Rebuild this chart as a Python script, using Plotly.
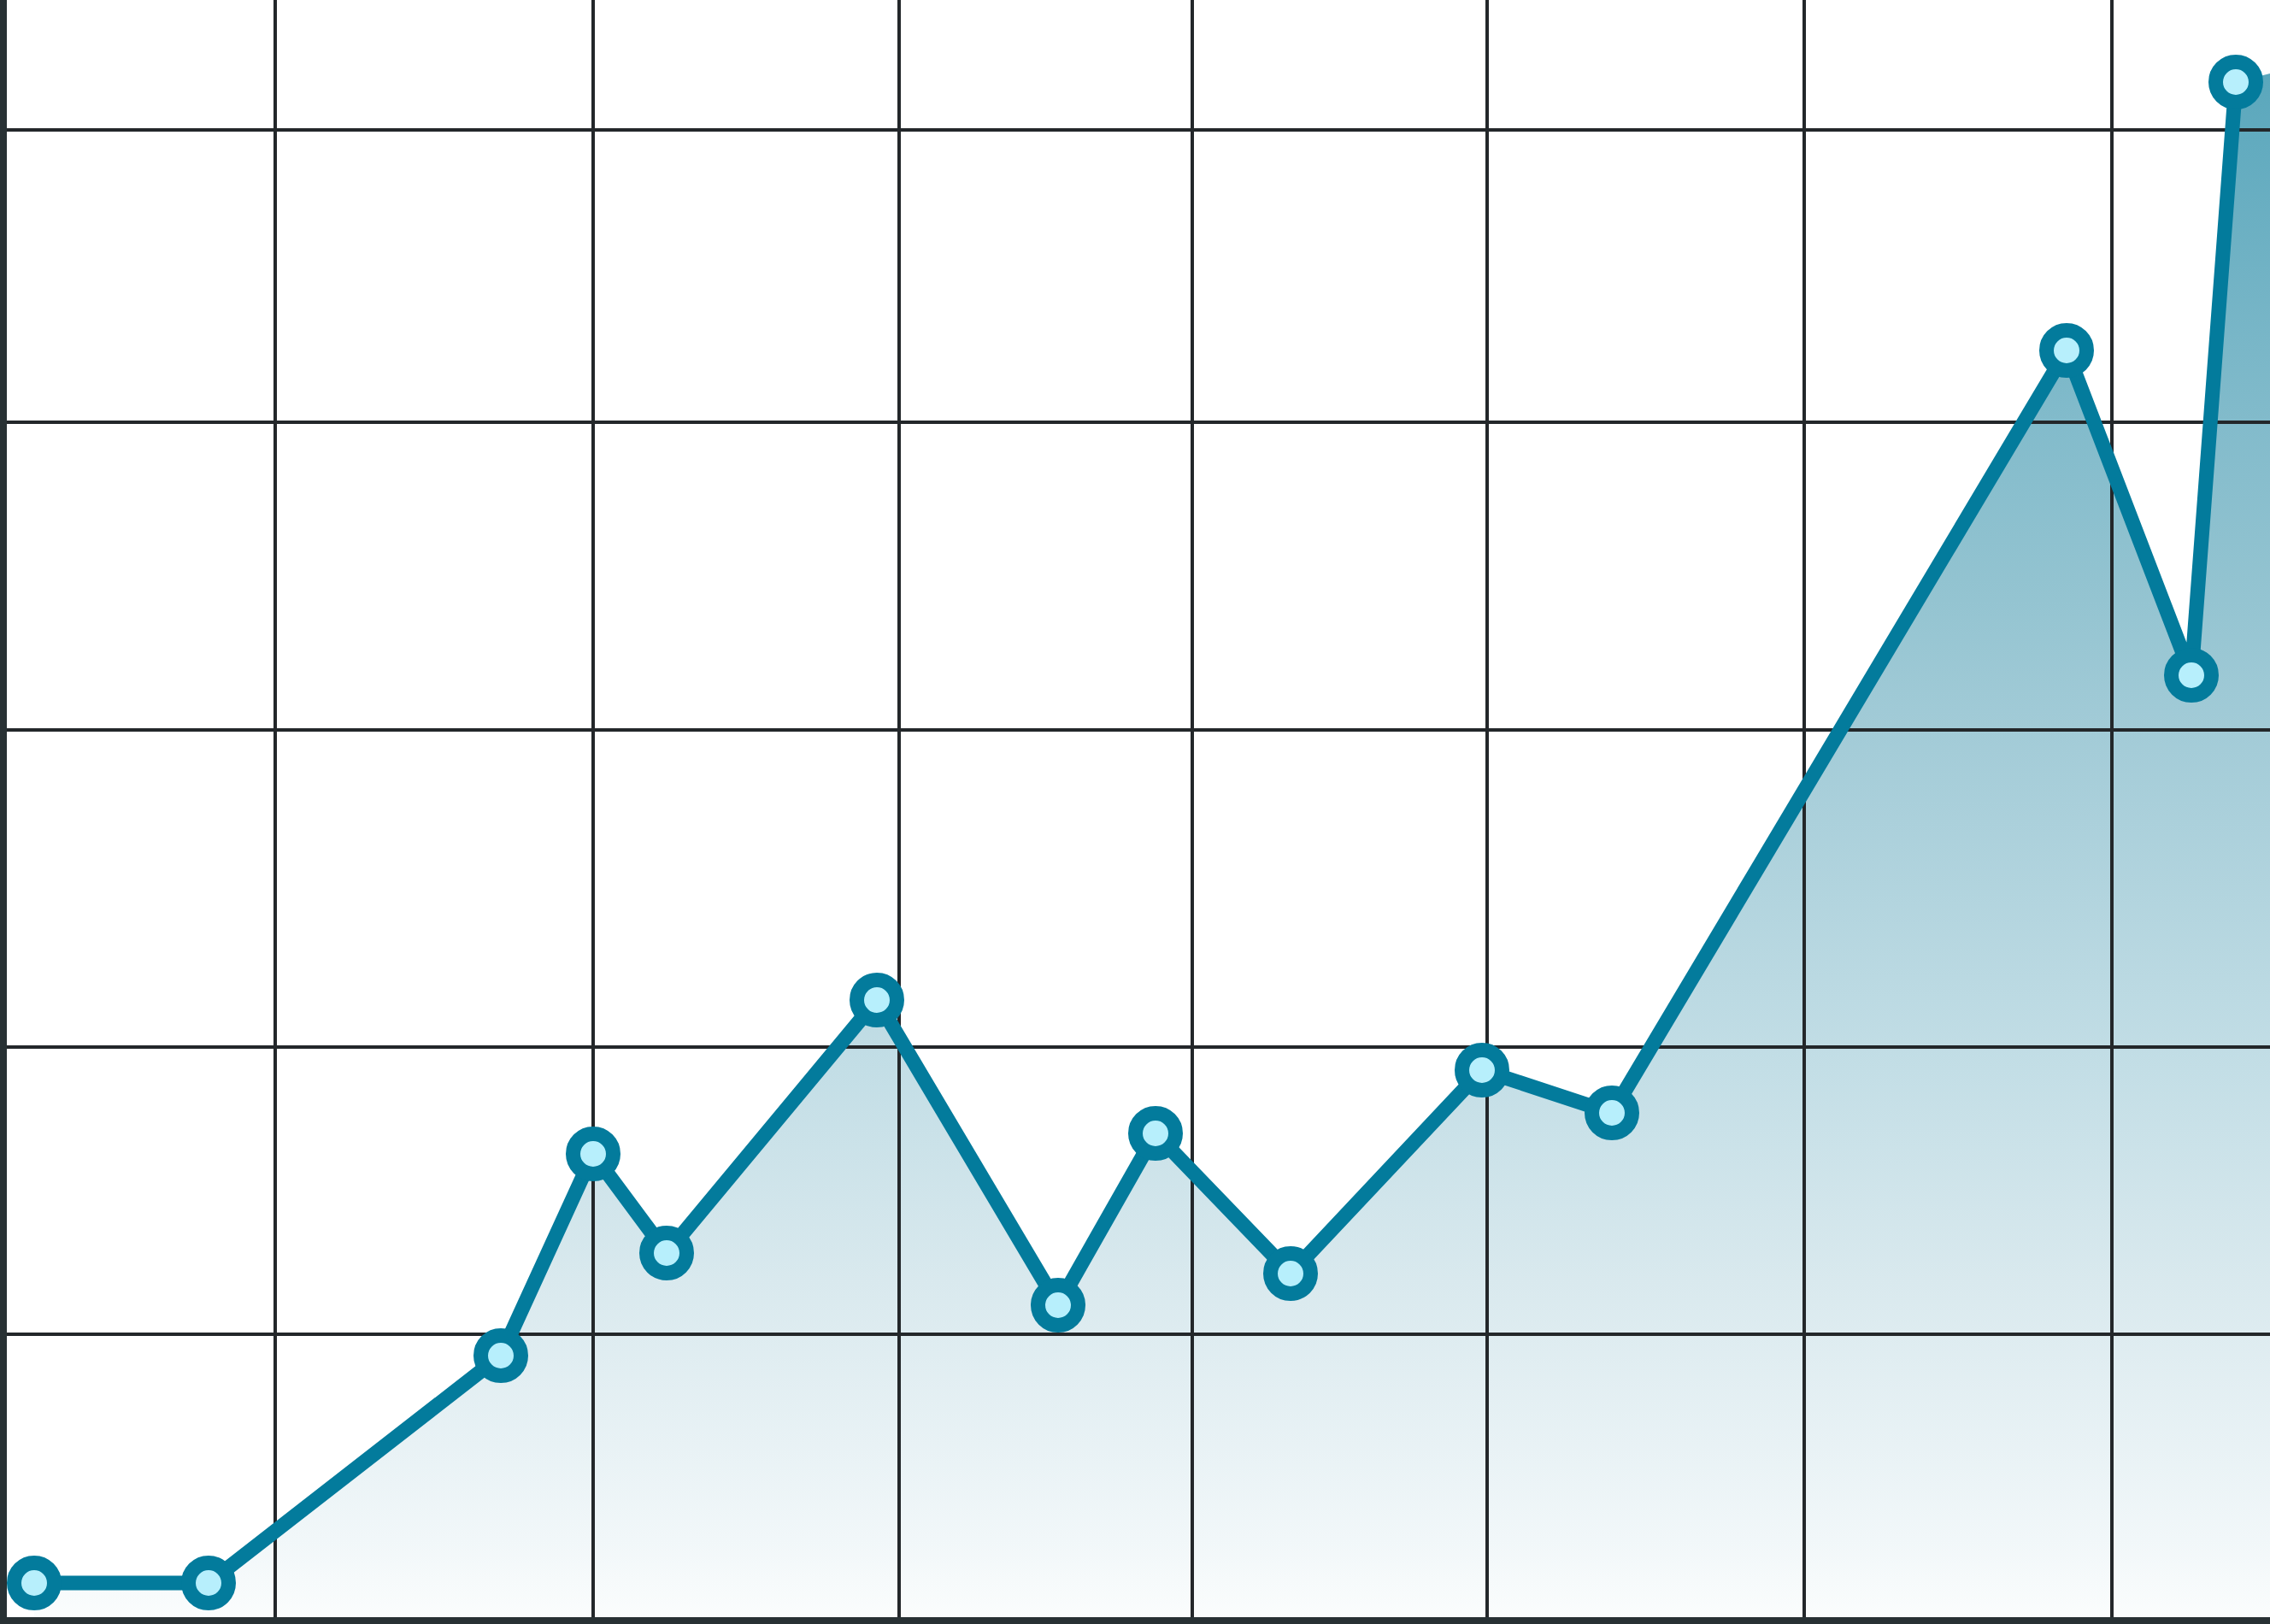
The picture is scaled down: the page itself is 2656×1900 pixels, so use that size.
import plotly.graph_objects as go

# Data (x in arbitrary units, y in arbitrary units)
x_vals = [3.6, 24.0, 58.2, 69.0, 77.6, 102.2, 123.4, 134.8, 150.6, 173.0, 188.2, 241.4, 256.0, 261.2]
y_vals = [4.4, 4.4, 31.0, 54.6, 43.0, 72.6, 36.9, 57.0, 40.6, 64.4, 59.4, 148.6, 110.6, 180.0]

x_grid = [31.8, 69.0, 104.8, 139.1, 173.6, 210.7, 246.7]
y_grid = [33.5, 67.1, 104.2, 140.2, 174.4]

x_range = [0.4, 265.2]
y_range = [0.4, 189.6]

LINE = "#037b9c"
INNER = "#b7effc"
GRID = "#23272a"
AXIS = "#283134"

fig = go.Figure()

# Area fill with vertical gradient (extends to the right edge of the plot)
fill_x = x_vals + [x_range[1]]
fill_y = y_vals + [y_vals[-1] + 1.0]
fig.add_trace(go.Scatter(
    x=fill_x, y=fill_y, mode="lines", line=dict(width=0, color="rgba(0,0,0,0)"),
    fill="tozeroy",
    fillgradient=dict(
        type="vertical", start=0, stop=y_range[1],
        colorscale=[
            [0.0, "#fbfdfd"],
            [0.05, "#f1f7f9"],
            [0.21, "#d9e9ee"],
            [0.34, "#c3dee6"],
            [0.55, "#a2cbd7"],
            [0.63, "#94c4d1"],
            [0.74, "#82bbcb"],
            [0.955, "#5aa7bc"],
            [1.0, "#58a6bb"],
        ],
    ),
    hoverinfo="skip", showlegend=False,
))

# Grid lines drawn above the fill, below the line
gx, gy = [], []
for xv in x_grid:
    gx += [xv, xv, None]
    gy += [y_range[0], y_range[1], None]
for yv in y_grid:
    gx += [x_range[0], x_range[1], None]
    gy += [yv, yv, None]
fig.add_trace(go.Scatter(
    x=gx, y=gy, mode="lines", line=dict(color=GRID, width=4),
    hoverinfo="skip", showlegend=False, connectgaps=False,
))

# Main line with markers
fig.add_trace(go.Scatter(
    x=x_vals, y=y_vals, mode="lines+markers",
    line=dict(color=LINE, width=17),
    marker=dict(size=47, color=INNER, line=dict(color=LINE, width=17)),
    showlegend=False, cliponaxis=False,
))

fig.update_layout(
    width=2656, height=1900,
    margin=dict(l=8, r=0, t=0, b=8),
    paper_bgcolor="white", plot_bgcolor="white",
    showlegend=False,
)
fig.update_xaxes(range=x_range, showgrid=False, zeroline=False, showticklabels=False,
                 ticks="", showline=True, linecolor=AXIS, linewidth=8)
fig.update_yaxes(range=y_range, showgrid=False, zeroline=False, showticklabels=False,
                 ticks="", showline=True, linecolor=AXIS, linewidth=8)

fig.write_html(
    "out.html",
    config={"displayModeBar": False},
    post_script="document.body.style.margin='0';document.body.style.overflow='hidden';",
)
